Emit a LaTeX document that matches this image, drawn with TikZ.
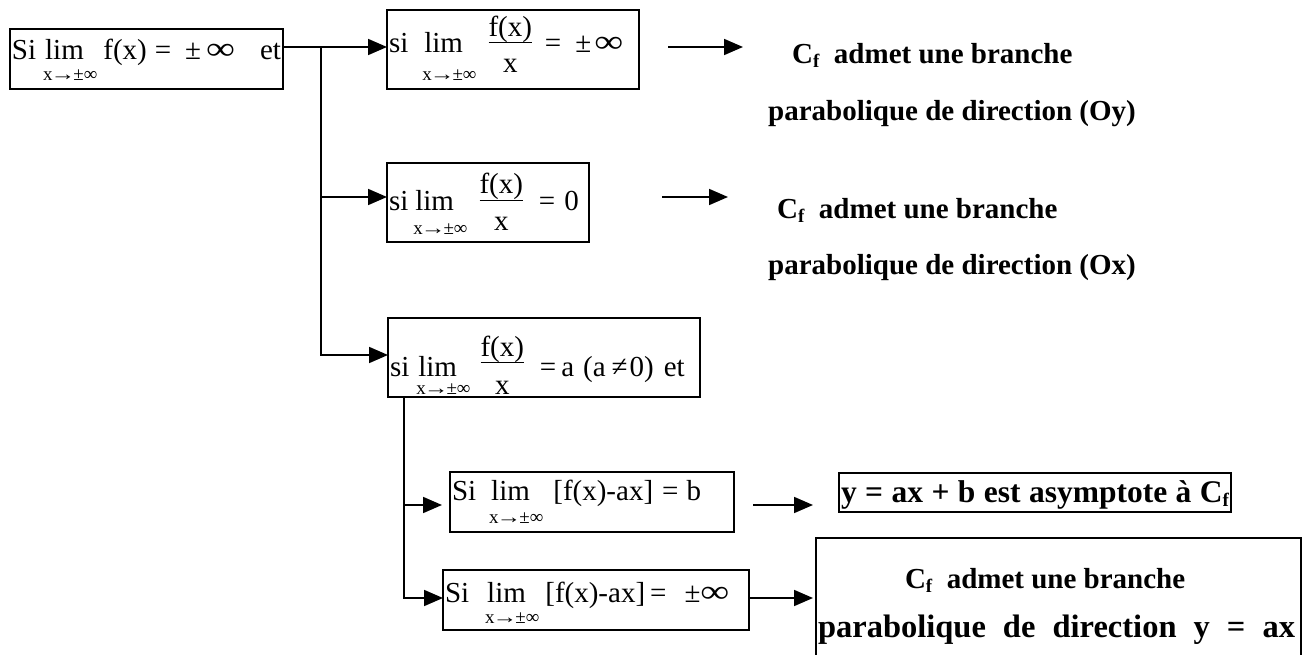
\documentclass[tikz,border=0pt]{standalone}
\usepackage{fontspec}
\usepackage{graphicx}
\setmainfont{Liberation Serif}
\usetikzlibrary{arrows.meta}

% sizes
\newcommand\mainsz{\fontsize{29}{34}\selectfont}
\newcommand\subsz{\fontsize{19}{21}\selectfont}
\newcommand\Cf{C\raisebox{-4pt}{\fontsize{19}{21}\selectfont f}}
\newcommand\binf{\scalebox{1.4}[1.1]{∞}}
\newcommand\sarrow{\kern-2pt\scalebox{1.3}[1]{→}\kern-2pt}

% limit with the index set under "lim"
\newsavebox\limbox \newsavebox\subbox \newsavebox\numbox \newsavebox\denbox
\newcommand\limx[1]{\sbox\limbox{lim}\sbox\subbox{\subsz x\sarrow±∞}%
  \rlap{\raisebox{-#1}[0pt][0pt]{\usebox\subbox}}%
  \hbox to\wd\subbox{\kern2pt\usebox\limbox\hss}}
% f(x) over x: #1 numerator raise, #2 bar raise, #3 denominator drop
\newcommand\fracx[3]{\sbox\numbox{f(x)}\sbox\denbox{x}%
  \rlap{\raisebox{#1}[0pt][0pt]{\usebox\numbox}}%
  \rlap{\raisebox{#2}[0pt][0pt]{\rule{\wd\numbox}{1.3pt}}}%
  \hbox to\wd\numbox{\hss\raisebox{-#3}[0pt][0pt]{\usebox\denbox}\hss}}

\begin{document}
\begin{tikzpicture}[x=1pt,y=-1pt,
  box/.style={draw,line width=1.8pt,inner xsep=2pt,inner ysep=0pt,outer sep=0pt,
              anchor=north west,font=\mainsz},
  lbl/.style={inner sep=0pt,anchor=base west,font=\bfseries\mainsz},
  link/.style={line width=1.8pt},
  arr/.style={link,-{Triangle[length=19pt,width=16pt]}}]
\useasboundingbox (0,0) rectangle (1302,655);
\clip (0,0) rectangle (1302,655);

% condition boxes
\node[box,text height=31pt,text depth=29pt] (b1) at (10,29)
  {\makebox[269pt][l]{Si\hspace{7pt}\limx{21pt}\hspace{6pt}f(x)\hspace{8pt}=\hspace{14pt}±\hspace{5pt}\binf\hfill et}};
\node[box,text height=43pt,text depth=36pt] (b2) at (387,10)
  {\makebox[248pt][l]{si\hspace{14pt}\limx{28pt}\hspace{12pt}\fracx{16pt}{10pt}{20pt}\hspace{13pt}=\hspace{14pt}±\hspace{3pt}\binf}};
\node[box,text height=48pt,text depth=31pt] (b3) at (387,163)
  {\makebox[198pt][l]{si\hspace{5pt}\limx{24pt}\hspace{12pt}\fracx{17pt}{10pt}{20pt}\hspace{16pt}=\hspace{9pt}0}};
\node[box,text height=58pt,text depth=21pt] (b4) at (388,318)
  {\makebox[308pt][l]{si\hspace{7pt}\limx{18pt}\hspace{10pt}\fracx{20pt}{13pt}{18pt}\hspace{16pt}=\hspace{5pt}a\hspace{9pt}(a\hspace{6pt}≠\hspace{2pt}0)\hspace{10pt}et}};
\node[box,text height=28pt,text depth=32pt] (b5) at (450,472)
  {\makebox[280pt][l]{Si\hspace{13pt}\limx{23pt}\hspace{10pt}[f(x)-ax]\hspace{9pt}=\hspace{8pt}b}};
\node[box,text height=32pt,text depth=28pt] (b6) at (443,570)
  {\makebox[302pt][l]{Si\hspace{16pt}\limx{21pt}\hspace{6pt}[f(x)-ax]\hspace{5pt}=\hspace{18pt}±\binf}};

% conclusions
\node[lbl] (oy1) at (792,64) {\Cf\ \ admet une branche};
\node[lbl] (oy2) at (768,121) {parabolique de direction (Oy)};
\node[lbl] (ox1) at (777,219) {\Cf\ \ admet une branche};
\node[lbl] (ox2) at (768,275) {parabolique de direction (Ox)};
\node[box,font=\bfseries\fontsize{31.5}{34}\selectfont,text height=29pt,text depth=10pt] (asym) at (839,473)
  {\makebox[388pt][s]{y = ax + b est asymptote à \Cf}};
\node[box,font=\bfseries\mainsz,text height=50pt,text depth=112pt] (fin) at (816,538)
  {\hbox to 481pt{\hspace{87pt}\Cf\ \ admet une branche\hss}%
   \llap{\raisebox{-49pt}[0pt][0pt]{\hbox to 481pt{{\fontsize{32.5}{36}\selectfont\makebox[477pt][s]{parabolique de direction y = ax}}\hss}}}};

% branching points
\coordinate (fork) at (321,47);
\coordinate (k3) at (321,197);
\coordinate (k4) at (321,355);
\coordinate (k5) at (404,505);
\coordinate (k6) at (404,598);
\coordinate (r1) at (0,47);
\coordinate (r2) at (0,197);

% first tree
\draw[link] (fork -| b1.east) -- (fork);
\draw[arr] (fork) -- (fork -| b2.west);
\draw[arr] (fork) -- (k4) -- (k4 -| b4.west);
\draw[arr] (k3) -- (k3 -| b3.west);

% second tree
\draw[arr] (k6 |- b4.south) -- (k6) -- (k6 -| b6.west);
\draw[arr,shorten >=8pt] (k5) -- (k5 -| b5.west);

% results
\draw[arr,shorten <=29pt,shorten >=49pt] (b2.east |- r1) -- (oy1.west |- r1);
\draw[arr,shorten <=73pt,shorten >=49pt] (b3.east |- r2) -- (ox1.west |- r2);
\draw[arr,shorten <=19pt,shorten >=26pt] (b5.east |- k5) -- (asym.west |- k5);
\draw[arr,shorten >=3pt] (b6.east |- k6) -- (fin.west |- k6);
\end{tikzpicture}
\end{document}
